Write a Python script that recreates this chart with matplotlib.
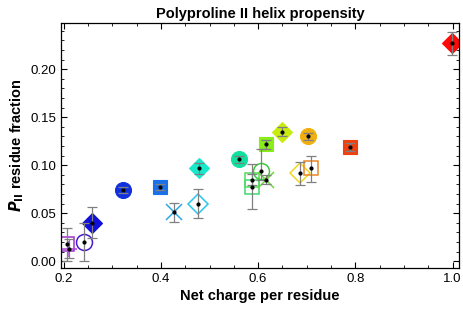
import matplotlib

matplotlib.use("Agg")
import matplotlib.pyplot as plt
import numpy as np
from matplotlib.ticker import MultipleLocator

plt.rcParams["font.family"] = ["Liberation Sans", "DejaVu Sans"]

# data
charge = [0.206, 0.211, 0.241, 0.258, 0.322, 0.399, 0.427, 0.477, 0.478, 0.561,
          0.587, 0.587, 0.605, 0.616, 0.616, 0.649, 0.687, 0.702, 0.709, 0.790, 0.999]
ppii = [0.018, 0.013, 0.020, 0.040, 0.074, 0.077, 0.051, 0.060, 0.097, 0.106,
        0.077, 0.085, 0.094, 0.085, 0.122, 0.135, 0.092, 0.130, 0.097, 0.119, 0.227]
err_low = [0.000, 0.003, 0.000, 0.024, 0.071, 0.074, 0.041, 0.045, 0.091, 0.102,
           0.054, 0.079, 0.085, 0.080, 0.117, 0.130, 0.079, 0.126, 0.083, 0.115, 0.215]
err_high = [0.035, 0.023, 0.040, 0.056, 0.077, 0.080, 0.061, 0.075, 0.102, 0.110,
            0.091, 0.101, 0.117, 0.090, 0.126, 0.140, 0.103, 0.134, 0.110, 0.123, 0.239]

# marker style per point: (marker, color, filled)
styles = [
    ("s", "#a030d0", False), ("+", "#b040d8", False), ("o", "#4a1ad0", False),
    ("D", "#1010d8", True), ("o", "#1030e0", True), ("s", "#1a70e8", True),
    ("x", "#30a8e0", False), ("D", "#28c8e8", False), ("D", "#18e8cc", True),
    ("o", "#10e0a0", True), ("s", "#40d870", False), ("s", "#50dc60", False),
    ("o", "#40c840", False), ("x", "#70d840", False), ("s", "#88ee18", True),
    ("D", "#c8ec10", True), ("D", "#f0d820", False), ("o", "#f0b010", True),
    ("s", "#e88828", False), ("s", "#f04010", True), ("D", "#ff0808", True),
]

fig = plt.figure(figsize=(4.64, 3.12), dpi=100)
ax = fig.add_axes([0.131, 0.141, 0.858, 0.785])

for i in range(len(charge)):
    marker, color, filled = styles[i]
    size = {"o": 11.5, "s": 10.5, "D": 10, "x": 11, "+": 11}[marker]
    if filled:
        ax.plot(charge[i], ppii[i], marker=marker, ms=size, color=color,
                mec=color, mew=0.8, zorder=2)
    else:
        ax.plot(charge[i], ppii[i], marker=marker, ms=size, mfc="none",
                mec=color, mew=1.1, zorder=2)
    lo = ppii[i] - err_low[i]
    hi = err_high[i] - ppii[i]
    ax.errorbar(charge[i], ppii[i], yerr=[[lo], [hi]], fmt="none",
                ecolor="#808080", elinewidth=0.9, capsize=3.8, capthick=0.9,
                zorder=3)
    ax.plot(charge[i], ppii[i], marker="o", ms=2, color="black", zorder=4)

ax.set_xlim(0.194, 1.013)
ax.set_ylim(-0.007, 0.248)
ax.xaxis.set_major_locator(MultipleLocator(0.2))
ax.xaxis.set_minor_locator(MultipleLocator(0.05))
ax.yaxis.set_major_locator(MultipleLocator(0.05))
ax.yaxis.set_minor_locator(MultipleLocator(0.01))
ax.set_xticklabels([f"{t:.1f}" for t in ax.get_xticks()])
ax.set_yticklabels([f"{t:.2f}" for t in ax.get_yticks()])
ax.tick_params(which="both", direction="in", top=True, right=True, labelsize=9.5)
ax.tick_params(which="major", length=4, width=0.8)
ax.tick_params(which="minor", length=2.5, width=0.6)
for s in ax.spines.values():
    s.set_linewidth(0.9)

ax.set_title("Polyproline II helix propensity", fontsize=10.5, fontweight="bold", pad=4)
ax.set_xlabel("Net charge per residue", fontsize=10.5, fontweight="bold", labelpad=3)
ax.set_ylabel(r"$\boldsymbol{P}_{\mathbf{II}}$ residue fraction", fontsize=10.5,
              fontweight="bold", labelpad=3)

fig.savefig("out.png", dpi=100)
